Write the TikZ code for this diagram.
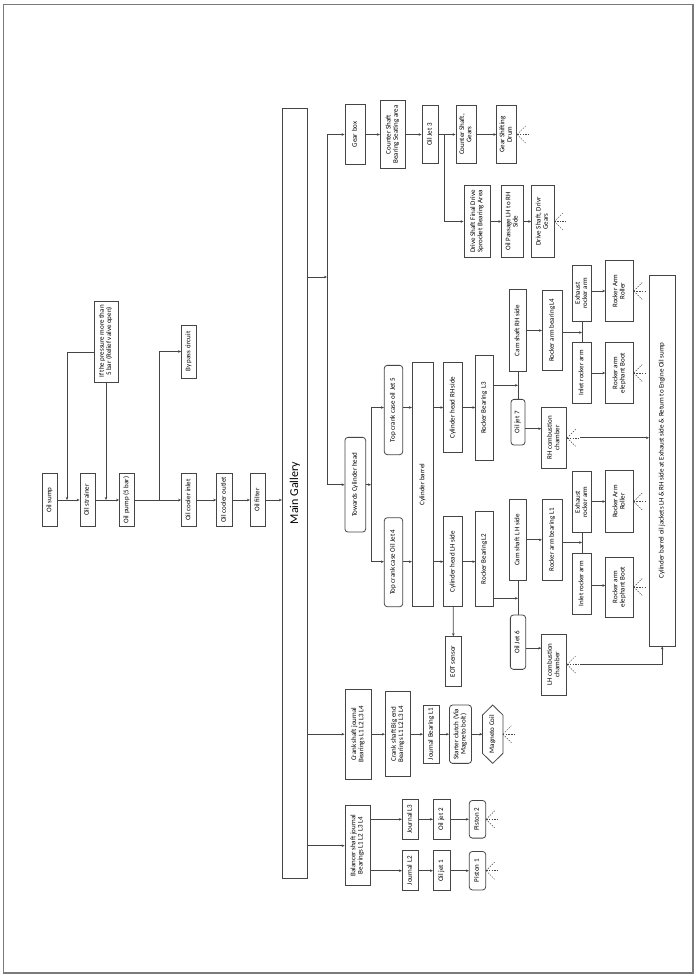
\documentclass[tikz,border=0pt]{standalone}
\usepackage{fontspec}
\setmainfont{Carlito}
\usepackage{graphicx}
\usetikzlibrary{arrows.meta,calc}
\definecolor{lc}{HTML}{454545}
\definecolor{frame}{HTML}{7A7A7A}
\newcommand{\fs}{\fontsize{7}{7.4}\selectfont}
\newcommand{\R}[1]{\rotatebox{90}{\begin{tabular}{@{}c@{}}#1\end{tabular}}}
\newcommand{\splashat}[1]{\foreach \a in {-45,0,45}{\draw[spl] (#1) -- ++(\a:12);}}
\tikzset{
  bx/.style={draw=lc, line width=0.8pt, fill=white, inner sep=0pt, font=\fs, align=center},
  rbx/.style={bx, rounded corners=3pt},
  ln/.style={draw=lc, line width=0.8pt},
  arr/.style={ln, -{Stealth[length=3pt,width=2.6pt]}},
  spl/.style={draw=lc, line width=0.5pt, dash pattern=on 1.5pt off 1.2pt}
}
\begin{document}
\begin{tikzpicture}[x=1pt,y=-1pt]
\useasboundingbox (0,0) rectangle (695,977);
\draw[frame, line width=1.3pt] (3.5,4.7) rectangle (693,973);

% supply chain
\node[bx, minimum width=15.5, minimum height=53] (sump) at (50,500) {\R{Oil sump}};
\node[bx, minimum width=15, minimum height=53] (strainer) at (87.5,500) {\R{Oil strainer}};
\node[bx, minimum width=15, minimum height=53] (pump) at (127,500) {\R{Oil pump (5 bar)}};
\node[bx, minimum width=24, minimum height=81] (relief) at (106,341.5) {\R{If the pressure more than\\5 bar (Relief valve open)}};
\node[bx, minimum width=15, minimum height=53] (cin) at (189,500) {\R{Oil cooler inlet}};
\node[bx, minimum width=15.3, minimum height=53] (cout) at (224.3,500) {\R{Oil cooler outlet}};
\node[bx, minimum width=15.4, minimum height=53] (filter) at (258,500) {\R{Oil filter}};
\node[bx, minimum width=15, minimum height=53] (bypass) at (189,351.5) {\R{By pass circuit}};
\node[bx, minimum width=25.5, minimum height=770] (mg) at (295,493) {\rotatebox{90}{\fontsize{12}{14}\selectfont Main Gallery}};

\draw[arr] (sump.east) -- (strainer.west);
\draw[arr] (strainer.east) -- (pump.west);
\draw[arr] (pump.east) -- (cin.west);
\draw[arr] (cin.east) -- (cout.west);
\draw[arr] (cout.east) -- (filter.west);
\draw[arr] (filter.east) -- (mg.west |- filter.east);
\coordinate (rl1) at (67,352);
\coordinate (bpj) at (159,500);
\draw[arr] (relief.west |- rl1) -- (rl1) -- (rl1 |- sump.east);
\draw[arr] (relief.south) -- (relief.south |- pump.west);
\draw[arr] (bpj) |- (bypass.west);

% gear box branch
\coordinate (busA) at (327,134.5);
\coordinate (busB) at (327,484.7);
\node[bx, minimum width=20.7, minimum height=59.3] (gear) at (355.3,134.5) {\R{Gear box}};
\node[bx, minimum width=25, minimum height=67.3] (csb) at (392.8,134.5) {\R{Counter Shaft\\Bearing Seating area}};
\node[bx, minimum width=16.7, minimum height=57.7] (oj3) at (430.3,134.5) {\R{Oil Jet 3}};
\node[bx, minimum width=20.7, minimum height=57.7] (csg) at (466.3,134.5) {\R{Counter Shaft,\\Gears}};
\node[bx, minimum width=20, minimum height=57.7] (gsd) at (506.7,134.5) {\R{Gear Shifting\\Drum}};
\node[bx, minimum width=26.7, minimum height=71.6] (dsf) at (477.3,221.5) {\R{Drive Shaft Final Drive\\Sprocket Bearing Area}};
\node[bx, minimum width=21.6, minimum height=71.6] (olp) at (512.5,221.5) {\R{Oil Passage LH to RH\\Side}};
\node[bx, minimum width=22.3, minimum height=71.6] (dsd) at (542.8,221.5) {\R{Drive Shaft, Drivr\\Gears}};
\coordinate (gj) at (444,134.5);

\draw[arr] (mg.east |- 0,277) -- (busA |- 0,277);
\draw[ln] (busA) -- (busB);
\draw[arr] (busA) -- (gear.west);
\draw[arr] (gear.east) -- (csb.west);
\draw[arr] (csb.east) -- (oj3.west);
\draw[arr] (oj3.east) -- (csg.west);
\draw[arr] (csg.east) -- (gsd.west);
\draw[arr] (gj) |- (dsf.west);
\draw[arr] (dsf.east) -- (olp.west);
\draw[arr] (olp.east) -- (dsd.west);
\splashat{gsd.east}
\splashat{dsd.east}

% cylinder head branch
\node[rbx, minimum width=20.7, minimum height=94.7] (tch) at (355.3,484.7) {\R{Towards Cylinder head}};
\node[rbx, minimum width=18.4, minimum height=89.3] (j5) at (393.5,410) {\R{Top crank case oil Jet 5}};
\node[rbx, minimum width=18.4, minimum height=89] (j4) at (393.5,562.2) {\R{Top crank case Oil Jet 4}};
\node[bx, minimum width=21, minimum height=244] (cb) at (422.8,484.7) {\R{Cylinder barrel}};
\node[bx, minimum width=19, minimum height=90.7] (hrh) at (453.2,407.5) {\R{Cylinder head RH side}};
\node[bx, minimum width=19, minimum height=90] (hlh) at (453.2,561.7) {\R{Cylinder head LH side}};
\node[bx, minimum width=15.3, minimum height=49.3] (eot) at (453.3,661.3) {\R{EOT sensor}};
\node[bx, minimum width=17.6, minimum height=104.3] (rbl3) at (484.5,407.8) {\R{Rocker Bearing~~L3}};
\node[bx, minimum width=17.6, minimum height=95.7] (rbl2) at (484.5,558.8) {\R{Rocker Bearing L2}};
\node[bx, minimum width=17.7, minimum height=82.7] (camr) at (518,330.5) {\R{Cam shaft RH side}};
\node[bx, minimum width=17.7, minimum height=81.7] (caml) at (518,539.8) {\R{Cam shaft L H side}};
\node[rbx, minimum width=14, minimum height=45.7] (oj7) at (518,422.2) {\R{Oil jet 7}};
\node[rbx, minimum width=15.3, minimum height=54.3] (oj6) at (518,642.2) {\R{Oil Jet 6}};
\node[bx, minimum width=25, minimum height=61] (rhc) at (554.2,437.8) {\R{RH combustion\\chamber}};
\node[bx, minimum width=25, minimum height=61] (lhc) at (554.2,664.5) {\R{LH combustion\\chamber}};
\node[bx, minimum width=20, minimum height=80.7] (rab4) at (552.3,330.3) {\R{Rocker arm bearing L4}};
\node[bx, minimum width=20, minimum height=81.7] (rab1) at (552.3,539.8) {\R{Rocker arm bearing L1}};
\node[bx, minimum width=19.7, minimum height=56.7] (exr) at (582,293.3) {\R{Exhaust\\rocker arm}};
\node[bx, minimum width=18.4, minimum height=60.6] (inr) at (582,373) {\R{Inlet rocker arm}};
\node[bx, minimum width=27.6, minimum height=61.7] (rrr) at (619.5,291) {\R{Rocker Arm\\Roller}};
\node[bx, minimum width=27.6, minimum height=60.6] (ebr) at (619.5,373) {\R{Rocker arm\\elephant Boot}};
\node[bx, minimum width=19.7, minimum height=60.6] (exl) at (582,502) {\R{Exhaust\\rocker arm}};
\node[bx, minimum width=18.4, minimum height=60.7] (inl) at (582,583.7) {\R{Inlet rocker arm}};
\node[bx, minimum width=27.6, minimum height=61.6] (rrl) at (619.5,501.5) {\R{Rocker Arm\\Roller}};
\node[bx, minimum width=27.6, minimum height=60] (ebl) at (619.5,587) {\R{Rocker arm\\elephant Boot}};
\node[bx, minimum width=25.7, minimum height=371] (jack) at (662.2,460.5) {\R{Cylinder barrel oil jackets LH \& RH side at Exhaust side \& Return to Engine Oil sump}};

\coordinate (tj) at (371,484.7);
\draw[arr] (busB) -- (tch.west);
\draw[arr] (tch.east) -- (tj);
\draw[ln] (tj |- hrh) -- (tj |- hlh);
\draw[arr] (tj |- hrh) -- (j5.west |- hrh);
\draw[arr] (tj |- hlh) -- (j4.west |- hlh);
\draw[arr] (j5.east |- hrh) -- (cb.west |- hrh);
\draw[arr] (j4.east |- hlh) -- (cb.west |- hlh);
\draw[arr] (cb.east |- hrh) -- (hrh.west);
\draw[arr] (cb.east |- hlh) -- (hlh.west);
\draw[arr] (hlh.south) -- (eot.north);
\draw[arr] (hrh.east) -- (rbl3.west |- hrh);
\draw[arr] (hlh.east) -- (rbl2.west |- hlh);
\draw[ln] (camr.south) -- (oj7.north);
\draw[ln] (caml.south) -- (oj6.north);
\draw[arr] (rbl3.east |- 0,385.3) -- (camr.south |- 0,385.3);
\draw[arr] (rbl2.east |- 0,598.3) -- (caml.south |- 0,598.3);
\draw[arr] ([yshift=-6.5pt]oj7.east) -- ([yshift=-6.5pt]oj7.east -| rhc.west);
\draw[arr] ([yshift=-6pt]oj6.east) -- ([yshift=-6pt]oj6.east -| lhc.west);
\draw[arr] (camr.east) -- (rab4.west |- camr.east);
\draw[arr] (caml.east) -- (rab1.west |- caml.east);
\draw[ln] (exr.south) -- (inr.north);
\draw[ln] (exl.south) -- (inl.north);
\draw[arr] (rab4.east |- 0,332.5) -- (exr.south |- 0,332.5);
\draw[arr] (rab1.east |- 0,542.5) -- (exl.south |- 0,542.5);
\draw[arr] (exr.east |- rrr.west) -- (rrr.west);
\draw[arr] (inr.east) -- (ebr.west |- inr.east);
\draw[arr] (exl.east |- rrl.west) -- (rrl.west);
\draw[arr] (inl.east |- 0,585.5) -- (ebl.west |- 0,585.5);
\splashat{rrr.east}
\splashat{ebr.east}
\splashat{rrl.east}
\splashat{ebl.east}
\splashat{rhc.east}
\splashat{lhc.east}
\coordinate (rhs) at ($(rhc.east)+(13,0)$);
\coordinate (lhs) at ($(lhc.east)+(13,0)$);
\draw[arr] (rhs) -- (jack.west |- rhs);
\draw[arr] (lhs) -| (jack.south);

% crank shaft branch
\node[bx, minimum width=26.7, minimum height=90.3] (cjb) at (358.3,734.2) {\R{Crank shaft journal\\Bearings L1 L2 L3 L4}};
\node[bx, minimum width=25.4, minimum height=85] (cbe) at (398,734.2) {\R{Crank shaft Big end\\Bearings L1 L2 L3 L4}};
\node[bx, minimum width=16, minimum height=58.3] (jbl1) at (431.3,734.2) {\R{Journal Bearing L1}};
\node[rbx, minimum width=22, minimum height=58.3] (stc) at (460.5,734.2) {\R{Starter clutch (Via\\Magneto bolt)}};
\node[inner sep=0pt, font=\fs, minimum width=20, minimum height=36.7] (mag) at (492.7,734.2) {\R{Magneto Coil}};
\draw[ln, fill=none] (mag.north west) -- ($(mag.north)+(0,-10)$) -- (mag.north east) -- (mag.south east) -- ($(mag.south)+(0,10)$) -- (mag.south west) -- cycle;
\draw[arr] (mg.east |- cjb.west) -- (cjb.west);
\draw[arr] (cjb.east) -- (cbe.west);
\draw[arr] (cbe.east) -- (jbl1.west);
\draw[arr] (jbl1.east) -- (stc.west);
\draw[arr] (stc.east) -- (mag.west);
\splashat{mag.east}

% balancer shaft branch
\node[bx, minimum width=25, minimum height=80] (bal) at (357.5,845.7) {\R{Balancer shaft journal\\Bearings L1 L2 L3 L4}};
\node[bx, minimum width=16, minimum height=40] (jl3) at (410.3,819.3) {\R{Journal L3}};
\node[bx, minimum width=16, minimum height=40] (jl2) at (410.3,870.7) {\R{Journal L2}};
\node[bx, minimum width=16.7, minimum height=40] (oj2) at (441.7,819.3) {\R{Oil jet 2}};
\node[bx, minimum width=16.7, minimum height=40] (oj1) at (441.7,870.7) {\R{Oil jet 1}};
\node[rbx, minimum width=16.4, minimum height=37.6] (p2) at (477.5,819.3) {\R{Piston 2}};
\node[rbx, minimum width=16.4, minimum height=38.4] (p1) at (477.5,870.7) {\R{Piston 1}};
\draw[arr] (mg.east |- bal.west) -- (bal.west);
\draw[arr] (bal.east |- jl3.west) -- (jl3.west);
\draw[arr] (bal.east |- jl2.west) -- (jl2.west);
\draw[arr] (jl3.east) -- (oj2.west);
\draw[arr] (jl2.east) -- (oj1.west);
\draw[arr] (oj2.east) -- (p2.west);
\draw[arr] (oj1.east) -- (p1.west);
\splashat{p2.east}
\splashat{p1.east}
\end{tikzpicture}
\end{document}
